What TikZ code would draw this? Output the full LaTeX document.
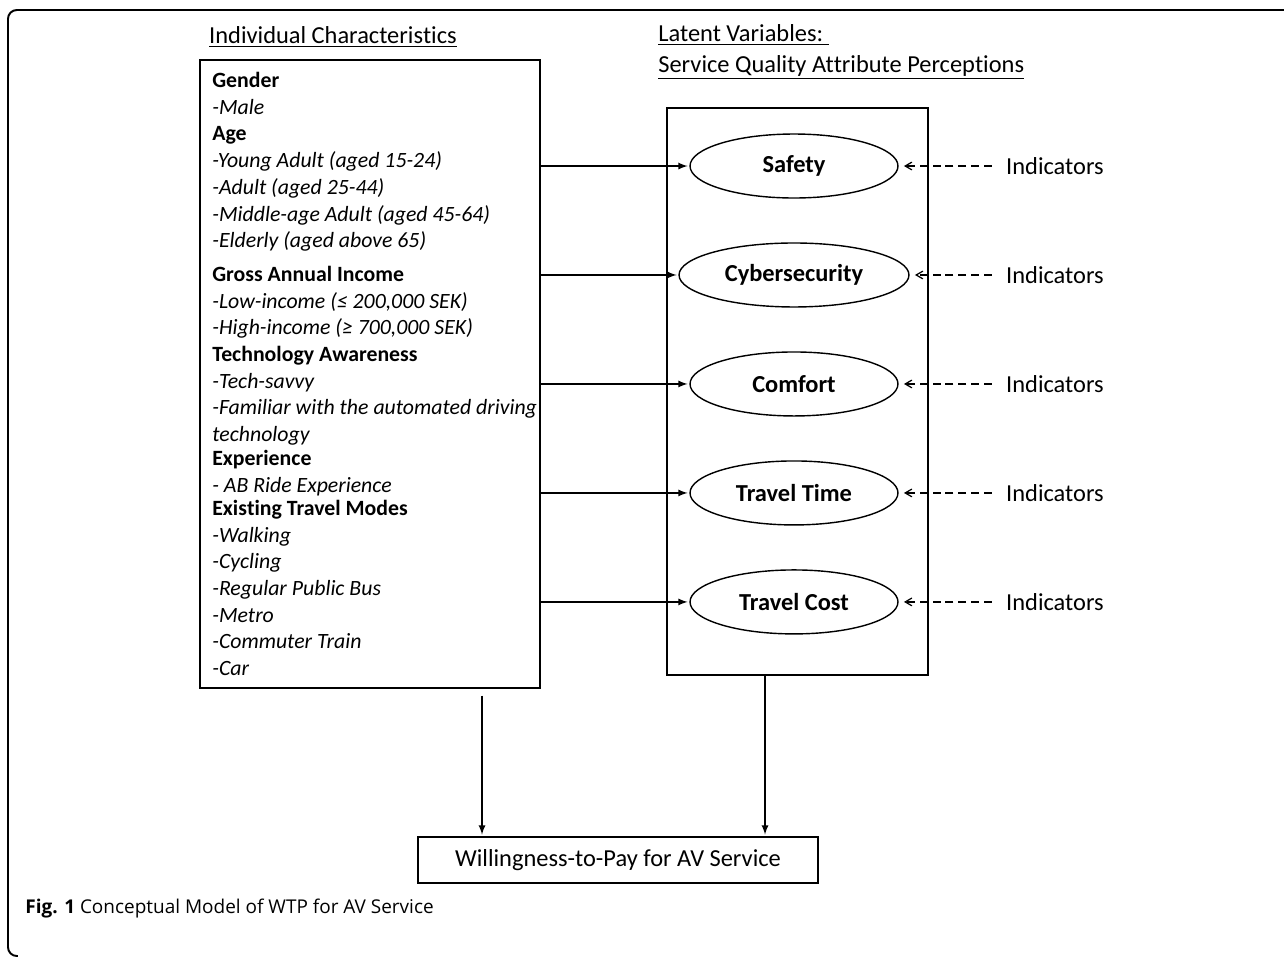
\documentclass[tikz,border=0pt]{standalone}
\usepackage{fontspec}
\setmainfont{Carlito}[RawFeature=-liga,RawFeature=-clig,RawFeature=-dlig,RawFeature=-rlig,RawFeature=-calt]
\newfontfamily\capfont{Open Sans}
\usepackage{tikz}
\usetikzlibrary{calc,arrows,shapes,positioning}
\newcommand\bigtxt{\fontsize{13.9}{17.6}\selectfont}
\newcommand\smalltxt{\fontsize{12.4}{15.18}\selectfont}
\newcommand\nolig{\kern0pt}
\tikzset{
    frame/.style={
    draw=black,line width=1.1pt,rounded corners=5pt
    },
    block/.style={
    rectangle,draw=black,line width=0.8pt,font=\bigtxt
    },
    latent/.style={
    ellipse,draw=black,line width=0.8pt,minimum width=4.16cm,minimum height=1.28cm,font=\bigtxt\bfseries
    },
    ind/.style={
    font=\bigtxt,inner sep=8pt
    },
    head/.style={
    font=\bigtxt,align=left,inner sep=0pt
    },
    list/.style={
    font=\smalltxt,align=left,inner sep=0pt
    },
}

\begin{document}
\begin{tikzpicture}[x=0.02cm, y=-0.02cm, shorten >=1pt, node distance=2.18cm, on grid, auto]
   \useasboundingbox (0,0) rectangle (1284,958);
   \draw[frame] (1284,10) -| (8,956) -- (16,956);

   \node[head] (t1) at (333,37) {\underline{Individual Characteris\nolig tics}};
   \node[head,anchor=west] (t2) at (658,52) {\underline{Latent Variables:\ }\\\underline{Service Quality At\nolig t\nolig ribute Percep\nolig tions}};

   \node[block,minimum width=6.8cm,minimum height=12.56cm] (IC) at (370,374) {};
   \node[list,anchor=north west] (L) at (212,72) {%
     \textbf{Gender}\\
     \textit{-Male}\\
     \textbf{Age}\\
     \textit{-Young Adult (aged 15-24)}\\
     \textit{-Adult (aged 25-44)}\\
     \textit{-Middle-age Adult (aged 45-64)}\\
     \textit{-Elderly (aged above 65)}\\[4pt]
     \textbf{Gross Annual Income}\\
     \textit{-Low-income (≤ 200,000 SEK)}\\
     \textit{-High-income (≥ 700,000 SEK)}\\
     \textbf{Technology Awareness}\\
     \textit{-Tech-savvy}\\
     \textit{-Familiar with the automated driving}\\
     \textit{technology}\\[-1.4pt]
     \textbf{Experience}\\
     \textit{- AB Ride Experience}\\[-2pt]
     \textbf{Exis\nolig ting Travel Modes}\\
     \textit{-Walking}\\
     \textit{-Cycling}\\
     \textit{-Regular Public Bus}\\
     \textit{-Metro}\\
     \textit{-Commuter Train}\\
     \textit{-Car}};

   \node[block,minimum width=5.22cm,minimum height=11.34cm] (LV) at (797.5,391.5) {};
   \node[latent] (s1) at (794,166) {Safety};
   \node[latent,minimum width=4.6cm,below=of s1] (s2) {Cybersecurity};
   \node[latent,below=of s2] (s3) {Comfort};
   \node[latent,below=of s3] (s4) {Travel Time};
   \node[latent,below=of s4] (s5) {Travel Cost};

   \foreach \i in {1,...,5}
     \node[ind,right=5.22cm of s\i] (i\i) {Indicators};

   \path[-latex,line width=0.8pt]
     (IC.east |- s1) edge (s1)
     (IC.east |- s2) edge (s2)
     (IC.east |- s3) edge (s3)
     (IC.east |- s4) edge (s4)
     (IC.east |- s5) edge (s5);

   \foreach \i in {1,...,5}
     \path[-angle 60,line width=0.7pt,dash pattern=on 4.5pt off 2.8pt,shorten >=3pt] (i\i) edge (s\i);

   \node[block,minimum width=8cm,minimum height=0.92cm] (W) at (618,860) {Willingness-to-Pay for AV Service};
   \coordinate (a) at ($(IC.south)+(112,7)$);
   \coordinate (b) at ($(LV.south)+(-32.5,0)$);
   \path[-latex,line width=0.8pt]
     (a) edge (a |- W.north)
     (b) edge (b |- W.north);

   \node[anchor=west,inner sep=0pt,font=\capfont\fontsize{10.8}{13}\selectfont] (cap) at (25,908) {\textbf{Fig. 1} Conceptual Model of WTP for AV Service};
\end{tikzpicture}
\end{document}
